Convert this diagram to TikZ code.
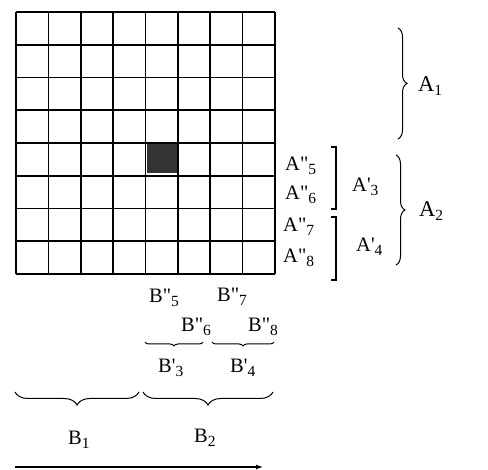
\documentclass[tikz,border=0pt]{standalone}
\usepackage{fontspec}
\setmainfont{Liberation Serif}[Ligatures=TeXOff]
\usetikzlibrary{decorations.pathreplacing,arrows.meta}
\newcommand\lsub[1]{\raisebox{-4pt}{\fontsize{15.5}{15.5}\selectfont #1}}
\begin{document}
\begin{tikzpicture}[x=1pt,y=-1pt,
  gridline/.style={line width=1.6pt},
  lbl/.style={anchor=base west,inner sep=0pt,font=\fontsize{20.5}{20.5}\selectfont},
  biglbl/.style={anchor=base west,inner sep=0pt,font=\fontsize{22.5}{22.5}\selectfont},
  brc/.style={decorate,decoration={brace,amplitude=#1},line width=1pt},
  brk/.style={line width=1.2pt}]
\useasboundingbox (0,0) rectangle (488,470);
% shaded cell
\fill[black!80] (147,144) rectangle (177,173);
% grid
\foreach \i in {0,...,8}{
  \draw[gridline] ({16+\i*32.375},12) -- ({16+\i*32.375},274);
  \draw[gridline] (16,{12+\i*32.75}) -- (275,{12+\i*32.75});
}
% right side labels
\node[biglbl] (A1) at (418,92) {A\lsub{1}};
\node[biglbl] (A2) at (419,217) {A\lsub{2}};
\node[lbl] (A3) at (352,192) {A'\lsub{3}};
\node[lbl] (A4) at (356,252) {A'\lsub{4}};
\node[lbl] (A5) at (285,171) {A"\lsub{5}};
\node[lbl] (A6) at (285,200) {A"\lsub{6}};
\node[lbl] (A7) at (283,232) {A"\lsub{7}};
\node[lbl] (A8) at (283,263) {A"\lsub{8}};
% right braces
\coordinate (a1t) at (398,28); \coordinate (a1b) at (398,139);
\coordinate (a2t) at (396,155); \coordinate (a2b) at (396,265);
\draw[brc=9] (a1t) -- (a1b);
\draw[brc=9] (a2t) -- (a2b);
% square brackets
\coordinate (k1t) at (331,147); \coordinate (k1b) at (331,209);
\coordinate (k2t) at (331,217); \coordinate (k2b) at (331,280);
\draw[brk] (k1t) -- ++(5,0) |- (k1b);
\draw[brk] (k2t) -- ++(5,0) |- (k2b);
% bottom labels
\node[lbl] (B5) at (149,303) {B"\lsub{5}};
\node[lbl] (B7) at (217,302) {B"\lsub{7}};
\node[lbl] (B6) at (181,332) {B"\lsub{6}};
\node[lbl] (B8) at (248,332) {B"\lsub{8}};
\node[lbl] (B3) at (158,373) {B'\lsub{3}};
\node[lbl] (B4) at (230,373) {B'\lsub{4}};
\node[lbl] (B1) at (68,445) {B\lsub{1}};
\node[lbl] (B2) at (194,443) {B\lsub{2}};
% bottom braces
\coordinate (s1r) at (203,342); \coordinate (s1l) at (145,342);
\coordinate (s2r) at (274,342); \coordinate (s2l) at (212,342);
\draw[brc=4] (s1r) -- (s1l);
\draw[brc=4] (s2r) -- (s2l);
\coordinate (b1r) at (139,392); \coordinate (b1l) at (15,392);
\coordinate (b2r) at (273,392); \coordinate (b2l) at (143,392);
\draw[brc=13] (b1r) -- (b1l);
\draw[brc=13] (b2r) -- (b2l);
% arrow
\coordinate (ar1) at (15,467); \coordinate (ar2) at (263,467);
\draw[line width=1.2pt,-{Latex[length=7pt,width=5pt]}] (ar1) -- (ar2);
\end{tikzpicture}
\end{document}
